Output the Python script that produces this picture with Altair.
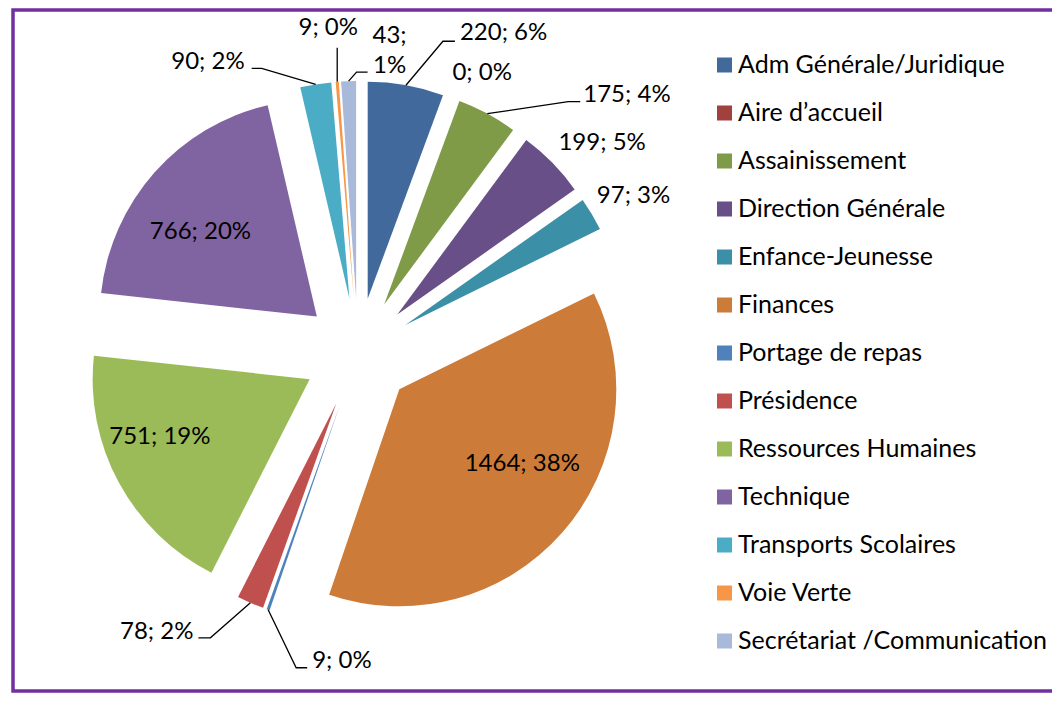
import math
import altair as alt
import pandas as pd

# ---------------- data ----------------
categories = [
    "Adm Générale/Juridique", "Aire d’accueil", "Assainissement",
    "Direction Générale", "Enfance-Jeunesse", "Finances",
    "Portage de repas", "Présidence", "Ressources Humaines", "Technique",
    "Transports Scolaires", "Voie Verte", "Secrétariat /Communication",
]
values = [220, 0, 175, 199, 97, 1464, 9, 78, 751, 766, 90, 9, 43]
percents = [6, 0, 4, 5, 3, 38, 0, 2, 19, 20, 2, 0, 1]

# ---------------- styling / layout ----------------
colors = [
    "#41699C", "#A0413E", "#7F9B48", "#694F88", "#3B8FA6", "#CD7B38",
    "#4F81BD", "#C0504D", "#9BBB59", "#8064A2", "#4BACC6", "#F79646",
    "#A8B9D9",
]
W, H = 1044, 685
CX, CY = 350, 345          # pie centre (px)
R = 217                    # pie radius (px)
EXPLODE = 55               # explosion distance (px)
FONT = "Lato"
FS = 24
LEGEND_FS = 25
# label anchor offset from the slice's outer edge point (manual label drag)
LABEL_OFFSET = [(54, -52), (0, -25), (96, -19), (6, -20), (5, -18), (-40, -69),
                (44, 51), (-57, 29), (41, -46), (46, 59), (-71, -22), (-9, -54),
                (41, -45)]
LABEL_ALIGN = ["left", "left", "left", "left", "left", "center", "left", "right",
               "center", "center", "right", "center", "center"]
LABEL_WRAP = [False] * 12 + [True]
# leader line: end offset from label anchor and elbow length
LEADER = [(-5, 8, 12), None, (-3, 7, 12), None, None, None, (-5, 7, 11),
          (5, 6, 12), None, None, (7, 6, 10), (9, 20, 0), (-22, 36, 11)]

total = sum(values)
rows, lab_rows, lead_rows = [], [], []
cum = 0
for i, (c, v, p) in enumerate(zip(categories, values, percents)):
    t0, t1 = cum, cum + v
    cum = t1
    mid = math.radians((t0 + t1) / 2 / total * 360)
    ax = CX + EXPLODE * math.sin(mid)
    ay = CY - EXPLODE * math.cos(mid)
    rows.append(dict(cat=c, t0=t0, t1=t1, ax=ax, ay=ay))
    ex = ax + R * math.sin(mid)
    ey = ay - R * math.cos(mid)
    lx = ex + LABEL_OFFSET[i][0]
    ly = ey + LABEL_OFFSET[i][1]
    sep = "\n" if LABEL_WRAP[i] else " "
    lab_rows.append(dict(cat=c, lx=lx, ly=ly, align=LABEL_ALIGN[i],
                         text=f"{v};{sep}{p}%"))
    if LEADER[i] is not None:
        ox, oy, el = LEADER[i]
        endx, endy = lx + ox, ly + oy
        sgn = 1 if ex > endx else -1
        pts = [(ex, ey), (endx + sgn * el, endy), (endx, endy)]
        for k, (px, py) in enumerate(pts):
            lead_rows.append(dict(cat=c, k=k, px=px, py=py))

slices = pd.DataFrame(rows)
labels = pd.DataFrame(lab_rows)
leaders = pd.DataFrame(lead_rows)

xs = alt.Scale(domain=[0, W], nice=False, zero=False)
ys = alt.Scale(domain=[0, H], nice=False, zero=False, reverse=True)

border = alt.Chart(pd.DataFrame({"a": [0]})).mark_rect(
    fillOpacity=0, stroke="#7030A0", strokeWidth=3.5
).encode(x=alt.value(5), x2=alt.value(W + 20), y=alt.value(2), y2=alt.value(H - 2))

pie = alt.Chart(slices).mark_arc(radius=R, stroke=None).encode(
    x=alt.X("ax:Q", scale=xs, axis=None),
    y=alt.Y("ay:Q", scale=ys, axis=None),
    theta=alt.Theta("t0:Q", stack=None,
                    scale=alt.Scale(domain=[0, total], range=[0, 2 * math.pi])),
    theta2="t1:Q",
    color=alt.Color(
        "cat:N",
        scale=alt.Scale(domain=categories, range=colors),
        legend=alt.Legend(
            orient="none", legendX=704, legendY=44.5, title=None,
            symbolType="square", symbolSize=225, symbolStrokeWidth=0,
            labelFont=FONT, labelFontSize=LEGEND_FS, labelColor="black",
            rowPadding=22, labelOffset=1, padding=0, labelLimit=500,
        ),
    ),
)

lines = alt.Chart(leaders).mark_line(color="black", strokeWidth=1.3).encode(
    x=alt.X("px:Q", scale=xs, axis=None),
    y=alt.Y("py:Q", scale=ys, axis=None),
    detail="cat:N",
    order="k:Q",
)

text_layers = []
for al in ["left", "right", "center"]:
    text_layers.append(
        alt.Chart(labels[labels["align"] == al]).mark_text(
            align=al, baseline="middle", font=FONT, fontSize=FS,
            color="black", lineBreak="\n", lineHeight=30,
        ).encode(
            x=alt.X("lx:Q", scale=xs, axis=None),
            y=alt.Y("ly:Q", scale=ys, axis=None),
            text="text:N",
        )
    )

chart = alt.layer(border, pie, lines, *text_layers).properties(
    width=W, height=H, padding=0, autosize=alt.AutoSizeParams(type="none"),
    background="white",
).configure_view(stroke=None)

chart.save("out.html", embed_options={"renderer": "svg", "actions": False})
